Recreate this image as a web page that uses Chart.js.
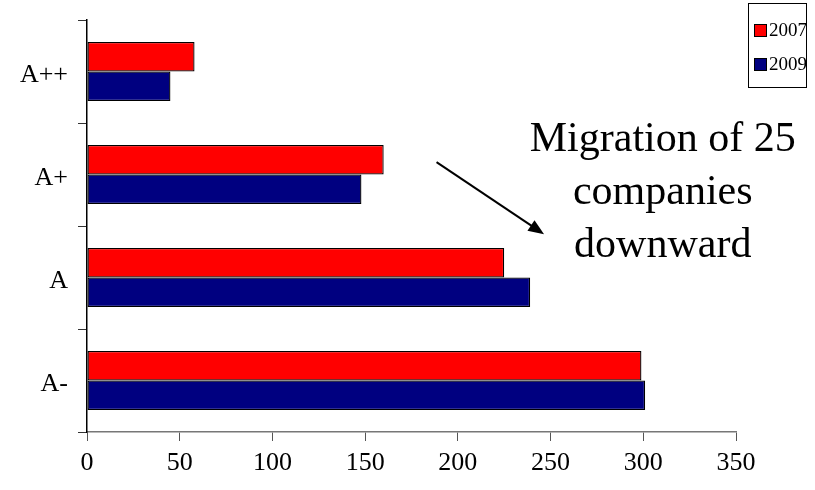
<!DOCTYPE html>
<html lang="en">
  <head>
    <meta charset="UTF-8" />
    <title>Rating migration 2007 vs 2009</title>
    <script src="https://cdn.jsdelivr.net/npm/chart.js"></script>
    <style>
      html, body { margin: 0; padding: 0; background: #fff; }
    </style>
  </head>
  <body>
    <div style="width: 815px; height: 490px">
      <canvas id="ratingChart"></canvas>
    </div>
    <script>
      // rating classes, top to bottom
      const categories = ["A++", "A+", "A", "A-"];
      const seriesNames = ["2007", "2009"];
      const values2007 = [58, 160, 225, 299];
      const values2009 = [45, 148, 239, 301];
      const xTicks = [0, 50, 100, 150, 200, 250, 300, 350];
      const noteLines = ["Migration of 25", "companies", "downward"];

      const serif = "'Liberation Serif', 'Times New Roman', serif";
      const colors = ["#ff0000", "#000080"];

      // arrow + note placed in axis units (x value, category index)
      const arrowFrom = { x: 188.5, y: 0.88 };
      const arrowTo = { x: 246.5, y: 1.58 };
      const noteAt = { x: 310.5, y: 0.665 };

      const ctx = document.getElementById("ratingChart").getContext("2d");

      const notePlugin = {
        id: "notePlugin",
        afterDraw: (chart) => {
          const c = chart.ctx;
          const xs = chart.scales.x;
          const ys = chart.scales.y;
          c.save();

          // arrow
          const x1 = xs.getPixelForValue(arrowFrom.x);
          const y1 = ys.getPixelForValue(arrowFrom.y);
          const x2 = xs.getPixelForValue(arrowTo.x);
          const y2 = ys.getPixelForValue(arrowTo.y);
          const ang = Math.atan2(y2 - y1, x2 - x1);
          const head = 17;
          c.strokeStyle = "#000";
          c.fillStyle = "#000";
          c.lineWidth = 2;
          c.beginPath();
          c.moveTo(x1, y1);
          c.lineTo(x2 - Math.cos(ang) * head * 0.8, y2 - Math.sin(ang) * head * 0.8);
          c.stroke();
          c.beginPath();
          c.moveTo(x2, y2);
          c.lineTo(x2 - head * Math.cos(ang - 0.38), y2 - head * Math.sin(ang - 0.38));
          c.lineTo(x2 - head * Math.cos(ang + 0.38), y2 - head * Math.sin(ang + 0.38));
          c.closePath();
          c.fill();

          // note text
          c.font = "42px " + serif;
          c.textAlign = "center";
          c.textBaseline = "middle";
          const nx = xs.getPixelForValue(noteAt.x);
          const ny = ys.getPixelForValue(noteAt.y);
          noteLines.forEach((line, i) => c.fillText(line, nx, ny + i * 53));

          // legend box
          const bx = 748, by = 3, bw = 58, bh = 84;
          c.fillStyle = "#fff";
          c.fillRect(bx, by, bw, bh);
          c.strokeStyle = "#000";
          c.lineWidth = 1;
          c.strokeRect(bx + 0.5, by + 0.5, bw, bh);
          c.font = "19px " + serif;
          c.textAlign = "left";
          chart.data.datasets.forEach((ds, i) => {
            const cy = by + 27 + i * 34;
            c.fillStyle = ds.backgroundColor;
            c.fillRect(bx + 6, cy - 6, 12, 12);
            c.strokeStyle = "#000";
            c.strokeRect(bx + 6.5, cy - 5.5, 12, 12);
            c.fillStyle = "#000";
            c.fillText(ds.label, bx + 21, cy + 1);
          });
          c.restore();
        },
      };

      const chart = new Chart(ctx, {
        type: "bar",
        data: {
          labels: categories,
          datasets: [
            {
              label: seriesNames[0],
              data: values2007,
              backgroundColor: colors[0],
              borderColor: "#000",
              borderWidth: 1.3,
              borderSkipped: false,
            },
            {
              label: seriesNames[1],
              data: values2009,
              backgroundColor: colors[1],
              borderColor: "#000",
              borderWidth: 1.3,
              borderSkipped: false,
            },
          ],
        },
        options: {
          indexAxis: "y",
          responsive: true,
          maintainAspectRatio: false,
          animation: false,
          categoryPercentage: 0.575,
          barPercentage: 1.0,
          layout: { padding: { left: 0, right: 79, top: 20, bottom: 0 } },
          plugins: {
            legend: { display: false },
            tooltip: { enabled: false },
          },
          scales: {
            x: {
              min: 0,
              max: 350,
              afterBuildTicks: (axis) => {
                axis.ticks = xTicks.map((v) => ({ value: v }));
              },
              afterFit: (axis) => { axis.height = 58; },
              grid: {
                drawOnChartArea: false,
                tickLength: 9,
                color: "#555",
              },
              border: { color: "#777", width: 1.5 },
              ticks: {
                color: "#000",
                padding: 7,
                font: { family: serif, size: 26 },
              },
            },
            y: {
              afterFit: (axis) => {
                axis.width = 87;
                axis.paddingTop = 0;
                axis.paddingBottom = 0;
              },
              grid: {
                drawOnChartArea: false,
                offset: true,
                tickLength: 9,
                color: "#333",
              },
              border: { color: "#000", width: 1.5 },
              ticks: {
                color: "#000",
                padding: 10,
                labelOffset: 4,
                font: { family: serif, size: 26 },
              },
            },
          },
        },
        plugins: [notePlugin],
      });
    </script>
  </body>
</html>
